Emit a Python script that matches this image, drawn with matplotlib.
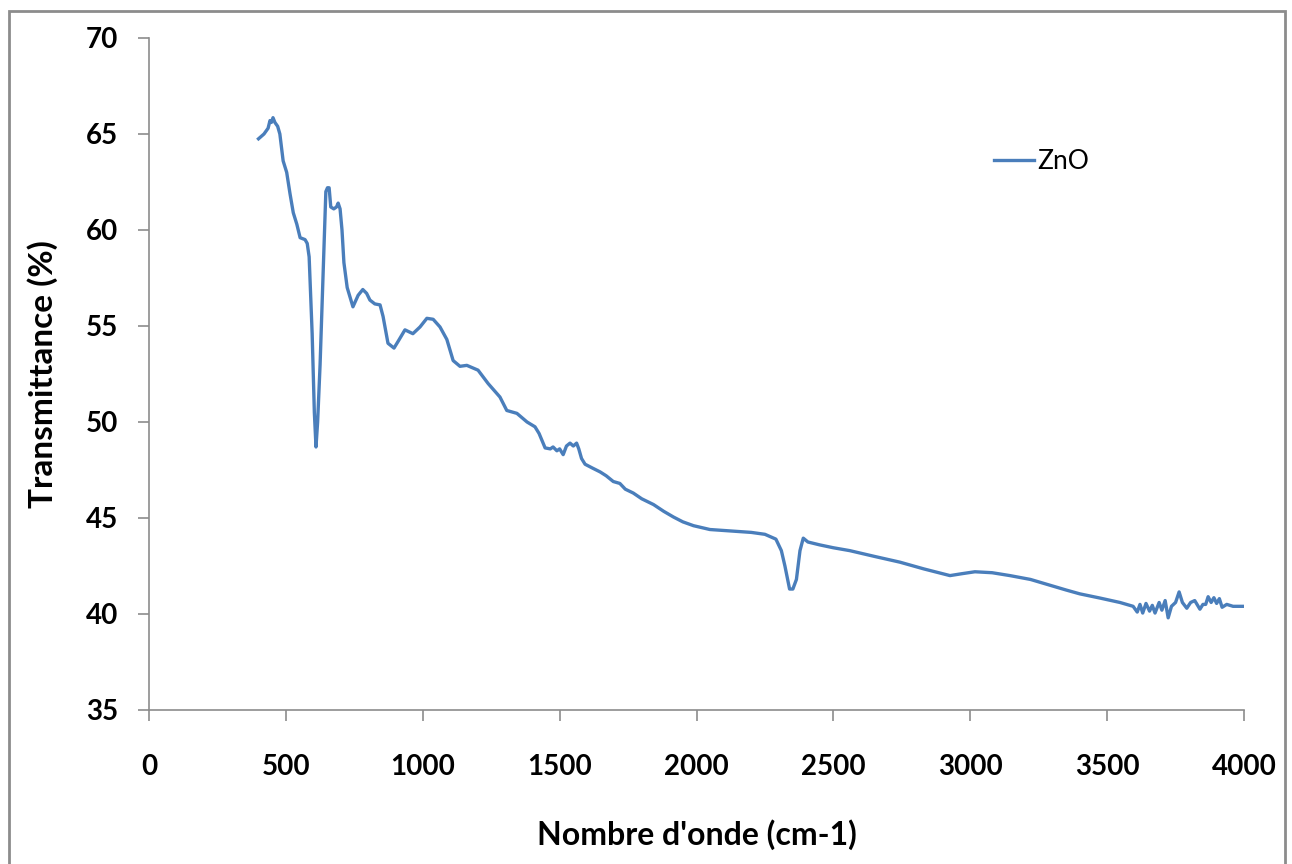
import matplotlib
matplotlib.use('Agg')
import matplotlib.pyplot as plt
from matplotlib.patches import Rectangle

# spectre FTIR ZnO
wn=[400,420,435,442,447,453,460,470,478,490,503,515,527,540,552,570,578,585,596,604,610,616,625,637,646,652,658,664,675,685,691,698,705,712,724,745,764,781,795,807,825,844,855,873,895,910,935,964,990,1015,1038,1063,1088,1111,1136,1161,1202,1239,1282,1307,1344,1381,1410,1425,1447,1466,1476,1490,1500,1513,1525,1538,1550,1562,1570,1580,1593,1620,1648,1670,1696,1720,1740,1769,1800,1843,1880,1916,1950,1989,2049,2100,2150,2200,2250,2290,2310,2323,2340,2352,2365,2378,2390,2407,2450,2500,2560,2650,2743,2830,2926,2970,3017,3080,3145,3220,3291,3350,3400,3474,3547,3595,3610,3620,3630,3642,3655,3665,3675,3690,3700,3712,3723,3735,3750,3763,3775,3791,3805,3820,3839,3850,3860,3869,3880,3890,3900,3910,3920,3937,3960,4000]
trans=[64.75,65.0,65.3,65.7,65.6,65.85,65.6,65.4,65.0,63.6,63.0,61.9,60.9,60.3,59.6,59.5,59.3,58.6,54.6,50.5,48.7,50.0,53.0,58.1,62.0,62.2,62.2,61.2,61.1,61.2,61.4,61.1,60.0,58.3,57.0,56.0,56.6,56.9,56.7,56.35,56.15,56.1,55.5,54.1,53.85,54.2,54.8,54.6,54.95,55.4,55.35,54.95,54.3,53.2,52.9,52.95,52.7,52.0,51.3,50.6,50.45,50.0,49.75,49.4,48.65,48.6,48.7,48.5,48.6,48.3,48.75,48.9,48.75,48.9,48.6,48.1,47.8,47.6,47.4,47.2,46.9,46.8,46.5,46.3,46.0,45.7,45.35,45.05,44.8,44.6,44.4,44.35,44.3,44.25,44.15,43.9,43.3,42.5,41.3,41.3,41.8,43.3,43.95,43.75,43.6,43.45,43.3,43.0,42.7,42.35,42.0,42.1,42.2,42.15,42.0,41.8,41.5,41.25,41.05,40.83,40.6,40.4,40.1,40.5,40.05,40.55,40.15,40.45,40.05,40.6,40.2,40.7,39.8,40.4,40.6,41.15,40.6,40.3,40.6,40.7,40.25,40.5,40.5,40.9,40.6,40.85,40.55,40.8,40.35,40.5,40.4,40.4]
xticks=[0,500,1000,1500,2000,2500,3000,3500,4000]
yticks=[35,40,45,50,55,60,65,70]

plt.rcParams['font.family']=['Lato','DejaVu Sans']
fig=plt.figure(figsize=(12.92,8.64),dpi=100)
ax=fig.add_axes([149/1292.,1-710/864.,(1244-149)/1292.,(710-38)/864.])
ax.plot(wn,trans,color='#4a7ebb',lw=2.4,label='ZnO')
ax.set_xlim(0,4000)
ax.set_ylim(35,70)
ax.set_xticks(xticks)
ax.set_yticks(yticks)
for s in ['top','right']:
	ax.spines[s].set_visible(False)
for s in ['left','bottom']:
	ax.spines[s].set_color('#8c8c8c')
	ax.spines[s].set_linewidth(1.2)
ax.tick_params(axis='both',direction='out',length=8,width=1.2,color='#8c8c8c',labelsize=20)
ax.tick_params(axis='x',pad=24)
ax.tick_params(axis='y',pad=14)
for t in ax.get_xticklabels()+ax.get_yticklabels():
	t.set_fontweight('bold')
ax.set_xlabel("Nombre d'onde (cm-1)",fontsize=23,fontweight='bold',labelpad=28)
ax.set_ylabel('Transmittance (%)',fontsize=24,fontweight='bold',labelpad=20)
ax.legend(loc='upper left',bbox_to_anchor=(0.75,0.87),frameon=False,fontsize=19,handlelength=1.5,handletextpad=0.15)
fig.patches.append(Rectangle((9/1292.,-0.05),(1285-9)/1292.,1.05-11/864.,transform=fig.transFigure,fill=False,edgecolor='#8c8c8c',lw=2,clip_on=False))
fig.savefig('out.png',dpi=100)
